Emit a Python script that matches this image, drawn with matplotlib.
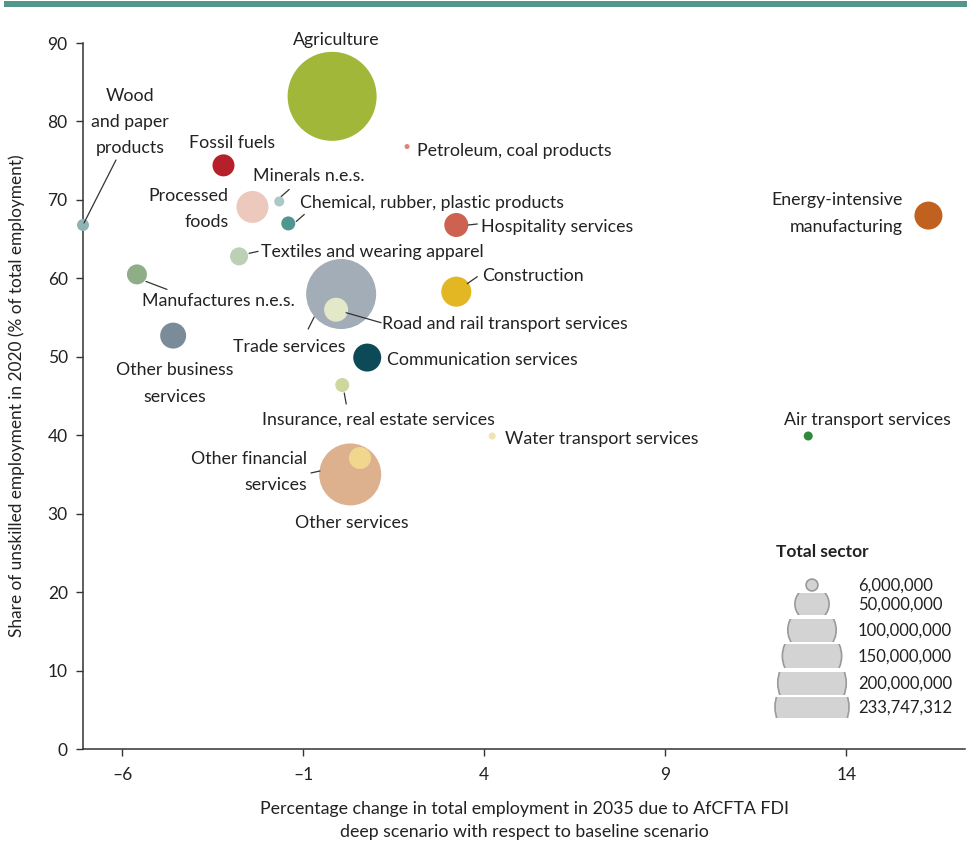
import matplotlib
matplotlib.use("Agg")
import matplotlib.pyplot as plt
from matplotlib import font_manager
from matplotlib.patches import Circle, Rectangle
from matplotlib.transforms import offset_copy
import numpy as np

# ------------------------- data ---------------------------
sectors = ['Agriculture', 'Wood\nand paper\nproducts', 'Fossil fuels', 'Processed\nfoods',
           'Minerals n.e.s.', 'Chemical, rubber, plastic products', 'Textiles and wearing apparel',
           'Manufactures n.e.s.', 'Other business\nservices', 'Trade services',
           'Road and rail transport services', 'Communication services',
           'Insurance, real estate services', 'Other services', 'Other financial\nservices',
           'Petroleum, coal products', 'Hospitality services', 'Construction',
           'Water transport services', 'Energy-intensive\nmanufacturing', 'Air transport services']
emp_change = [-0.2, -7.08, -3.2, -2.4, -1.66, -1.41, -2.77, -5.59, -4.59, 0.05,
              -0.09, 0.77, 0.08, 0.3, 0.57, 1.87, 3.23, 3.23, 4.22, 16.27, 12.95]
unskilled = [83.2, 66.8, 74.4, 69.1, 69.8, 67.0, 62.8, 60.5, 52.7, 58.0,
             56.0, 49.9, 46.4, 35.0, 37.1, 76.8, 66.8, 58.3, 39.9, 68.0, 39.9]
total_emp = [233.7, 4.25, 14.3, 30.2, 2.95, 5.8, 9.6, 11.8, 19.9, 144.6,
             17.0, 23.1, 5.8, 113.4, 14.3, 0.74, 17.0, 26.6, 1.45, 23.1, 2.4]  # millions
colors = ['#a0b73a', '#8fb3b3', '#b5202a', '#ecc8bd', '#a9c8c6', '#4e9690', '#bcd0b5',
          '#8fae88', '#7a8b9a', '#a3adb7', '#e3e8c8', '#0d4a57', '#ccd89c', '#ddb08e',
          '#f1d78e', '#e0826e', '#cd6250', '#e3b724', '#f3e3b0', '#c0611f', '#2f8a3c']

legend_vals = [6000000, 50000000, 100000000, 150000000, 200000000, 233747312]
xticks = [-6, -1, 4, 9, 14]
yticks = [0, 10, 20, 30, 40, 50, 60, 70, 80, 90]

# label placement: offset (dots) from bubble, alignment, leader line (two offsets) or None
labels = {
    0: ((4, 56), 'center', None),
    1: ((47, 103), 'center', ((33, 65), (1, 2))),
    2: ((9, 22), 'center', None),
    3: ((-24, -2), 'right', None),
    4: ((-26, 25), 'left', ((2, 5), (10, 12))),
    5: ((12, 20), 'left', ((8, 2), (16, 9))),
    6: ((22, 4), 'left', ((10, 3), (19, 5))),
    7: ((5, -27), 'left', ((9, -7), (30, -15))),
    8: ((2, -48), 'center', None),
    9: ((-52, -53), 'center', ((-33, -35), (-27, -23))),
    10: ((46, -14), 'left', ((10, -3), (45, -13))),
    11: ((20, -2.5), 'left', None),
    12: ((36, -35), 'center', ((2, -8), (4, -19))),
    13: ((2, -49), 'center', None),
    14: ((-53, -14), 'right', ((-49, -15), (-40, -13))),
    15: ((10, -4.5), 'left', None),
    16: ((25, -2.5), 'left', ((12, 0), (21, 1))),
    17: ((26, 15.5), 'left', ((11, 8), (21, 15))),
    18: ((13, -2.5), 'left', None),
    19: ((-26, 2), 'right', None),
    20: ((59, 16.5), 'center', None),
}

# ------------------------- fonts ---------------------------
avail = set(f.name for f in font_manager.fontManager.ttflist)
main_font = 'Lato' if 'Lato' in avail else 'DejaVu Sans'
narrow_font = 'Liberation Sans Narrow' if 'Liberation Sans Narrow' in avail else main_font
plt.rcParams['font.family'] = [main_font, 'DejaVu Sans']

# ------------------------- plot ---------------------------
fig = plt.figure(figsize=(9.67, 8.43), dpi=100)
W, H = 967., 843.
ax = fig.add_axes([83 / W, 1 - 749 / H, (965 - 83) / W, (749 - 43) / H])

R_MAX = 44.5  # pixel radius of the largest bubble
sizes = [(2 * 0.72 * R_MAX) ** 2 * v / max(total_emp) for v in total_emp]
sc = ax.scatter(emp_change, unskilled, s=sizes, c=colors, edgecolors='none', zorder=3, clip_on=False)

for i, (txt, (dx, dy), ha, leader) in [(k, (sectors[k],) + labels[k]) for k in labels]:
    x, y = emp_change[i], unskilled[i]
    tr = offset_copy(ax.transData, fig=fig, x=dx, y=dy, units='dots')
    ax.text(x, y, txt, transform=tr, ha=ha, va='center', fontsize=12.8,
            color='#222222', linespacing=1.8, zorder=5)
    if leader is not None:
        (a1, b1), (a2, b2) = leader
        ax.annotate('', xy=(x, y), xycoords=offset_copy(ax.transData, fig=fig, x=a1, y=b1, units='dots'),
                    xytext=(x, y), textcoords=offset_copy(ax.transData, fig=fig, x=a2, y=b2, units='dots'),
                    arrowprops=dict(arrowstyle='-', color='#333333', lw=0.9, shrinkA=0, shrinkB=0),
                    zorder=4)

ax.set_xlim(-7.08, 17.28)
ax.set_ylim(0, 90)
ax.set_xticks(xticks)
ax.set_xticklabels([str(t).replace('-', '\u2013') for t in xticks], fontsize=12.5)
ax.set_yticks(yticks)
ax.set_yticklabels([str(t) for t in yticks], fontsize=12.5)
for s in ['top', 'right']:
    ax.spines[s].set_visible(False)
for s in ['left', 'bottom']:
    ax.spines[s].set_color('#333333')
    ax.spines[s].set_linewidth(1.1)
ax.tick_params(axis='both', colors='#333333', length=5, width=1, labelcolor='#222222')
ax.tick_params(axis='x', pad=8)
ax.tick_params(axis='y', pad=6)

ax.set_xlabel('Percentage change in total employment in 2035 due to AfCFTA FDI\n'
              'deep scenario with respect to baseline scenario',
              family=[narrow_font, 'DejaVu Sans'], fontsize=12.8, color='#222222',
              linespacing=1.5, labelpad=13)
ax.set_ylabel('Share of unskilled employment in 2020 (% of total employment)',
              family=[narrow_font, 'DejaVu Sans'], fontsize=12.4, color='#222222', labelpad=16)

# ------------------------- size legend ---------------------------
lax = fig.add_axes([0, 0, 1, 1], zorder=6)
lax.set_xlim(0, W)
lax.set_ylim(H, 0)
lax.axis('off')
lax.patch.set_alpha(0)
lax.text(776, 552, 'Total sector', fontsize=12.5, fontweight='bold', va='center', ha='left', color='#222222')
R_LEG = 37.0
row_y = [585, 604, 630, 656, 683, 707]
row_h = [30, 22, 23, 24, 23, 21]
for v, yc, hh in zip(legend_vals, row_y, row_h):
    r = R_LEG * np.sqrt(v / legend_vals[-1])
    circ = Circle((812, yc), r, facecolor='#d3d3d3', edgecolor='#9a9a9a', lw=1.2)
    lax.add_patch(circ)
    clip = Rectangle((812 - 50, yc - hh / 2), 100, hh, transform=lax.transData)
    circ.set_clip_path(clip)
    lax.text(858, yc + 1, f'{v:,}', fontsize=12, va='center', ha='left', color='#222222')

# top band
fig.patches.append(Rectangle((4 / W, 1 - 7 / H), 1, 6 / H, transform=fig.transFigure,
                             facecolor='#55968c', edgecolor='none'))

fig.savefig('out.png', dpi=100)
